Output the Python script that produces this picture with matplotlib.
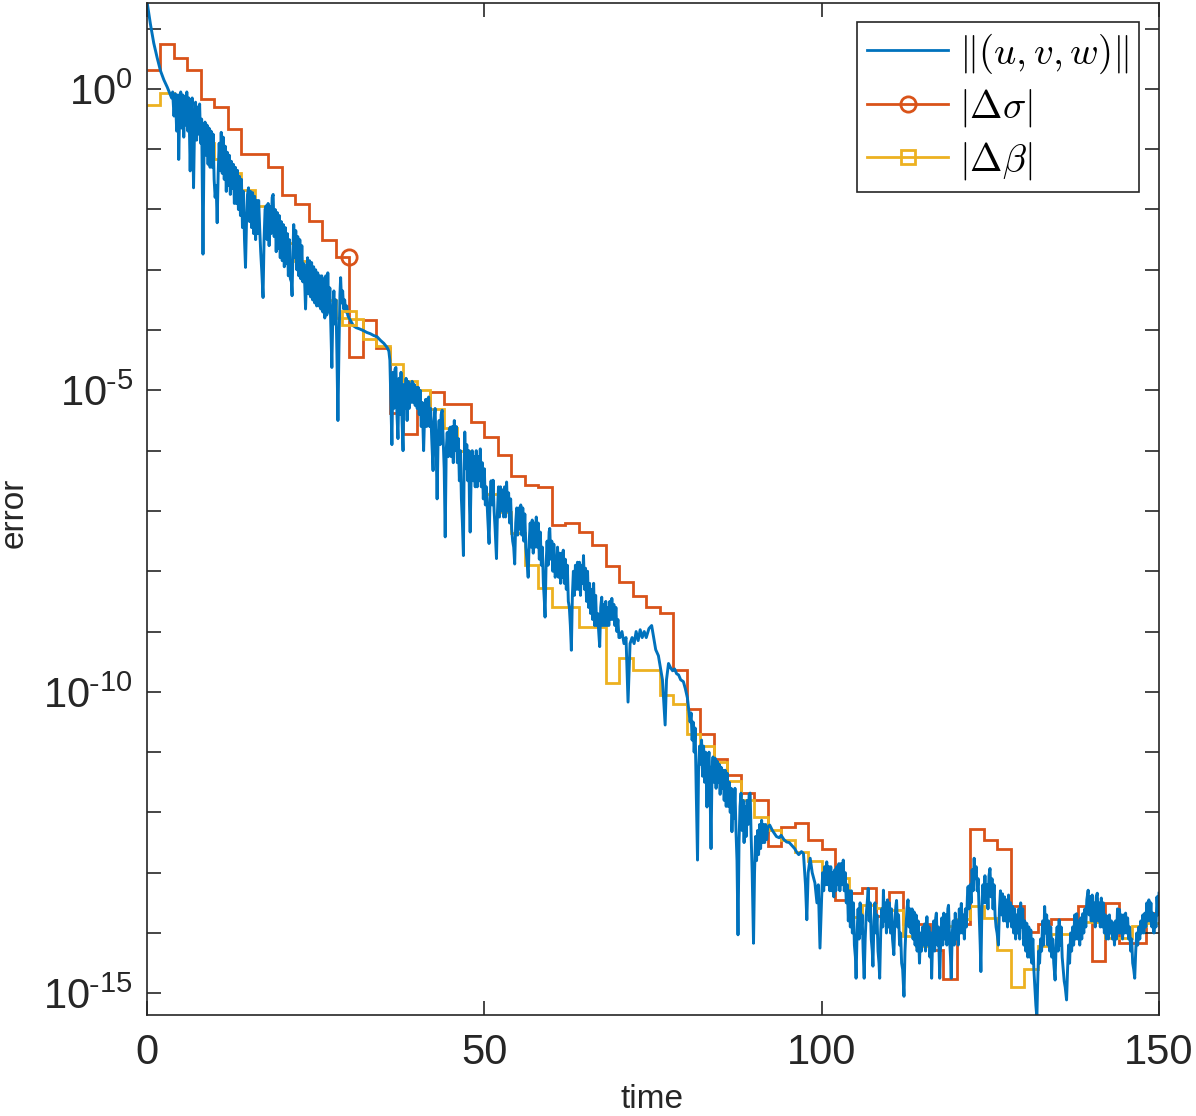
import numpy as np
import matplotlib
matplotlib.use('Agg')
import matplotlib.pyplot as plt
from matplotlib.lines import Line2D

plt.rcParams['font.family'] = ['Liberation Sans', 'DejaVu Sans']
plt.rcParams['mathtext.fontset'] = 'cm'

# step series: one value (log10) per 2-unit interval from 0 to 150
t_edges = list(range(0, 152, 2))
sigma_exp = [0.31, 0.74, 0.51, 0.31, -0.16, -0.30, -0.67, -1.08, -1.08, -1.29,
             -1.76, -1.91, -2.19, -2.51, -2.78, -4.45, -3.83, -4.29, -5.37, -5.72,
             -5.33, -5.03, -5.22, -5.22, -5.52, -5.77, -6.08, -6.42, -6.57, -6.60,
             -7.23, -7.20, -7.35, -7.57, -7.92, -8.17, -8.41, -8.59, -8.70, -9.64,
             -10.28, -10.70, -11.12, -11.38, -11.67, -11.80, -12.56, -12.25, -12.17, -12.46,
             -12.61, -13.45, -13.34, -13.26, -13.71, -13.32, -13.85, -13.85, -14.28, -14.77,
             -13.85, -12.27, -12.45, -12.61, -13.55, -13.98, -13.85, -13.76, -13.76, -13.56,
             -14.46, -13.51, -14.16, -14.16, -13.66]
beta_exp = [-0.27, -0.06, -0.34, -0.63, -0.90, -1.17, -1.39, -1.68, -1.95, -2.25,
            -2.56, -2.85, -3.15, -3.50, -3.80, -3.82, -4.15, -4.27, -4.56, -4.84,
            -5.00, -5.31, -5.62, -6.01, -6.30, -6.72, -7.02, -7.37, -7.90, -8.28,
            -8.59, -8.59, -8.93, -8.93, -9.85, -9.44, -9.64, -9.63, -10.05, -10.20,
            -10.70, -10.90, -11.17, -11.48, -11.80, -12.08, -12.29, -12.46, -12.65, -12.80,
            -13.08, -13.08, -13.73, -13.54, -13.58, -13.62, -14.05, -14.21, -14.00, -13.88,
            -13.77, -13.56, -13.75, -14.29, -14.89, -14.60, -14.22, -14.02, -14.02, -13.81,
            -13.81, -14.08, -14.08, -13.89, -13.84]
marker_idx = 14  # markers sit at t = 30

# ||(u,v,w)|| : (time, log10 error)
blue_pts = [
    (0, 1.45), (0.5, 1.08), (1, 0.76), (1.5, 0.52), (2, 0.30), (2.5, 0.15), (3, 0.03), (3.4, -0.08), (3.65, -0.15),
    (3.8, -0.05), (4.0, -0.45), (4.2, -0.08), (4.4, -0.7), (4.6, -0.1), (4.7, -1.17), (4.85, -0.35), (5.0, -0.05),
    (5.15, -0.65), (5.3, -0.1), (5.45, -0.8), (5.6, -0.12), (5.75, -0.6), (5.9, -0.05), (6.05, -0.7), (6.2, -0.15),
    (6.4, -1.36), (6.55, -0.4), (6.7, -0.15), (6.8, -0.9), (6.9, -1.64), (7.05, -0.6), (7.2, -0.22), (7.35, -0.85),
    (7.5, -0.3), (7.65, -0.75), (7.8, -0.25), (7.95, -0.9), (8.1, -0.5), (8.3, -2.74), (8.45, -1.0), (8.6, -0.55),
    (8.75, -1.1), (8.9, -0.6), (9.05, -1.25), (9.2, -0.65), (9.35, -1.3), (9.5, -0.7), (9.65, -1.3), (9.8, -0.75),
    (9.95, -1.5), (10.1, -1.8), (10.25, -1.6), (10.4, -2.22), (10.55, -1.4), (10.7, -0.9), (10.85, -1.35), (11.0, -0.72),
    (11.15, -1.4), (11.3, -0.8), (11.45, -1.5), (11.6, -0.95), (11.75, -1.7), (11.9, -1.05), (12.05, -1.6),
    (12.2, -1.1), (12.35, -1.75), (12.5, -1.2), (12.65, -1.65), (12.8, -1.25), (12.95, -1.9), (13.1, -1.3),
    (13.25, -1.9), (13.4, -1.35), (13.55, -2.0), (13.7, -1.45), (13.85, -2.1), (14.0, -1.5), (14.15, -2.3),
    (14.3, -1.7), (14.45, -2.5), (14.6, -2.96), (14.75, -2.2), (14.9, -1.75), (15.05, -1.64), (15.2, -2.2),
    (15.35, -1.7), (15.5, -2.3), (15.65, -1.72), (15.8, -2.4), (15.95, -1.78), (16.1, -2.5), (16.25, -1.85),
    (16.4, -2.4), (16.55, -1.85), (16.7, -2.3), (16.85, -2.7), (17.0, -3.0), (17.2, -3.46), (17.35, -2.5), (17.5, -2.0),
    (17.65, -1.94), (17.8, -2.5), (17.95, -1.9), (18.1, -2.6), (18.25, -1.95), (18.4, -2.4), (18.55, -1.8),
    (18.7, -1.75), (18.85, -2.45), (19.0, -2.0), (19.15, -2.7), (19.3, -2.05), (19.45, -2.65), (19.6, -2.1),
    (19.75, -2.8), (19.9, -2.2), (20.05, -2.85), (20.2, -2.25), (20.35, -2.95), (20.5, -2.3), (20.65, -2.9),
    (20.8, -2.4), (20.95, -3.1), (21.1, -2.5), (21.25, -3.15), (21.4, -3.2), (21.5, -3.43), (21.65, -2.6), (21.75, -2.25),
    (21.9, -2.8), (22.05, -2.35), (22.2, -3.0), (22.35, -2.45), (22.5, -3.1), (22.65, -2.5), (22.8, -3.15),
    (22.95, -2.6), (23.1, -3.2), (23.25, -2.9), (23.4, -3.3), (23.5, -3.65), (23.65, -3.1), (23.8, -2.8), (23.95, -3.4),
    (24.1, -2.85), (24.25, -3.45), (24.4, -2.88), (24.55, -3.5), (24.7, -2.95), (24.85, -3.55), (25.0, -3.0),
    (25.15, -3.6), (25.3, -3.05), (25.45, -3.6), (25.6, -3.1), (25.75, -3.65), (25.9, -3.1), (26.05, -3.7),
    (26.2, -3.15), (26.35, -3.8), (26.5, -3.1), (26.65, -3.75), (26.8, -3.05), (26.95, -3.7), (27.1, -3.3),
    (27.25, -3.95), (27.4, -4.62), (27.55, -3.7), (27.7, -3.35), (27.85, -3.9), (28.0, -3.5), (28.15, -4.4),
    (28.3, -5.5), (28.45, -4.3), (28.6, -3.4), (28.7, -3.13), (28.85, -3.55), (29.0, -3.35), (29.15, -3.65), (29.3, -3.5),
    (29.45, -3.7), (29.6, -3.6), (29.75, -3.75), (29.9, -3.79),
    (30.3, -3.87), (30.6, -3.93), (31.0, -3.96), (31.5, -3.98), (32.1, -4.01), (32.6, -4.04), (33.1, -4.06),
    (33.6, -4.09), (34.1, -4.11), (34.6, -4.17), (35.1, -4.22), (35.6, -4.29), (35.85, -4.35),
    (36.0, -4.5), (36.15, -5.2), (36.3, -5.9), (36.45, -4.7), (36.6, -5.3), (36.75, -4.65), (36.9, -4.62),
    (37.05, -5.4), (37.2, -5.8), (37.35, -4.8), (37.5, -5.4), (37.65, -4.7), (37.8, -5.5), (37.95, -6.0), (38.1, -4.9),
    (38.25, -5.3), (38.4, -4.8), (38.55, -5.5), (38.7, -4.85), (38.85, -5.3), (39.0, -4.9), (39.15, -5.2),
    (39.3, -4.85), (39.45, -5.2), (39.6, -4.9), (39.75, -5.25), (39.9, -4.95), (40.05, -5.3), (40.2, -4.95),
    (40.35, -5.4), (40.5, -5.0), (40.65, -5.6), (40.8, -5.2), (41.0, -6.0), (41.15, -5.4), (41.3, -5.15), (41.45, -5.6),
    (41.6, -5.15), (41.75, -5.11), (41.9, -5.6), (42.05, -5.3), (42.2, -5.8), (42.4, -6.33), (42.55, -5.5),
    (42.7, -5.3), (42.85, -5.9), (43.0, -6.8), (43.15, -5.8), (43.3, -5.5), (43.45, -5.9), (43.6, -5.4), (43.75, -5.33),
    (43.9, -5.8), (44.05, -6.3), (44.2, -7.43), (44.35, -6.0), (44.5, -5.7), (44.65, -6.1), (44.8, -5.65),
    (44.95, -5.61), (45.1, -6.1), (45.25, -5.6), (45.4, -6.2), (45.55, -5.5), (45.7, -6.0), (45.85, -5.6), (46.0, -6.2),
    (46.15, -5.8), (46.3, -6.5), (46.45, -6.0), (46.6, -6.8), (46.75, -7.2), (46.9, -7.74), (47.0, -6.3), (47.1, -5.69),
    (47.25, -6.3), (47.4, -5.9), (47.55, -6.5), (47.7, -6.0), (47.8, -6.9), (47.9, -7.35), (48.05, -6.4), (48.2, -6.0),
    (48.35, -6.5), (48.5, -6.1), (48.65, -6.6), (48.8, -6.0), (48.95, -6.6), (49.1, -6.1), (49.25, -6.5),
    (49.4, -5.97), (49.55, -6.6), (49.7, -6.2), (49.85, -6.8), (50.0, -6.3), (50.15, -6.9), (50.3, -6.6), (50.5, -7.1),
    (50.7, -7.54), (50.85, -6.8), (51.0, -6.5), (51.15, -6.9), (51.3, -6.49), (51.45, -7.0), (51.6, -7.3),
    (51.8, -7.79), (51.95, -7.0), (52.1, -6.6), (52.25, -7.1), (52.4, -6.6), (52.55, -7.0), (52.7, -6.65),
    (52.85, -7.1), (53.0, -6.6), (53.15, -7.1), (53.3, -6.52), (53.45, -7.0), (53.6, -6.7), (53.75, -7.2),
    (53.9, -6.8), (54.05, -7.3), (54.2, -7.5), (54.35, -7.6), (54.5, -7.88), (54.65, -7.2), (54.8, -6.95),
    (54.95, -7.4), (55.1, -6.95), (55.25, -7.3), (55.4, -6.9), (55.55, -7.4), (55.7, -6.95), (55.85, -7.5),
    (56.0, -7.05), (56.15, -7.6), (56.3, -7.8), (56.5, -8.10), (56.65, -7.5), (56.8, -7.2), (56.95, -7.6),
    (57.1, -7.15), (57.25, -7.7), (57.4, -7.2), (57.55, -7.6), (57.7, -7.1), (57.85, -7.6), (58.0, -7.2),
    (58.15, -7.8), (58.3, -7.35), (58.45, -7.9), (58.6, -7.6), (58.75, -8.2), (58.9, -8.5), (59.0, -8.76),
    (59.15, -7.9), (59.3, -7.5), (59.45, -7.9), (59.6, -7.35), (59.7, -7.29), (59.85, -7.8), (60.0, -7.5),
    (60.15, -8.0), (60.3, -7.55), (60.5, -8.1), (60.7, -7.98), (60.85, -7.6), (61.0, -8.1), (61.15, -7.7),
    (61.3, -8.2), (61.45, -7.7), (61.6, -8.1), (61.7, -7.65), (61.85, -8.2), (62.0, -7.8), (62.15, -8.3),
    (62.3, -7.9), (62.45, -8.5), (62.6, -8.6), (62.75, -8.9), (62.9, -9.31), (63.05, -8.4), (63.2, -8.0),
    (63.35, -8.4), (63.5, -7.9), (63.65, -8.3), (63.8, -7.85), (63.95, -8.3), (64.1, -7.85), (64.25, -8.4),
    (64.4, -7.9), (64.55, -8.2), (64.7, -7.74), (64.85, -8.3), (65.0, -7.95), (65.15, -8.5), (65.3, -8.0),
    (65.45, -8.6), (65.6, -8.2), (65.75, -8.7), (65.9, -8.3), (66.05, -8.8), (66.2, -8.2), (66.35, -8.9),
    (66.5, -8.4), (66.65, -8.9), (66.8, -8.7), (66.95, -9.0), (67.1, -9.25), (67.25, -8.6), (67.4, -8.43),
    (67.55, -8.9), (67.7, -8.55), (67.85, -8.9), (68.0, -8.5), (68.15, -8.9), (68.3, -8.6), (68.45, -8.9),
    (68.6, -8.5), (68.75, -8.8), (68.9, -8.45), (69.05, -8.8), (69.2, -8.55), (69.35, -8.9), (69.5, -8.6),
    (69.65, -9.0), (69.8, -8.8), (69.95, -9.1),
    (70.1, -9.1), (70.4, -9.0), (70.7, -9.2), (71.0, -9.1), (71.3, -10.17), (71.6, -9.2), (71.9, -9.1), (72.2, -9.2),
    (72.5, -9.0), (72.8, -9.15), (73.1, -8.97), (73.4, -9.1), (73.7, -9.0), (74.0, -9.1), (74.4, -8.95), (74.8, -8.9),
    (75.1, -9.1), (75.4, -9.3), (75.8, -9.4), (76.1, -9.6), (76.4, -9.8), (76.8, -10.55), (77.0, -9.8), (77.3, -9.53),
    (77.6, -9.6), (77.9, -9.65), (78.2, -9.62), (78.5, -9.7), (78.8, -9.72), (79.1, -9.8), (79.5, -9.83),
    (79.8, -9.95),
    (80.1, -10.1), (80.3, -10.3), (80.5, -10.5), (80.65, -10.35), (80.8, -10.8), (80.95, -10.5), (81.1, -11.0),
    (81.25, -10.6), (81.4, -11.6), (81.6, -12.79), (81.75, -11.3), (81.9, -10.9), (82.05, -11.2), (82.2, -10.80),
    (82.35, -11.4), (82.5, -10.9), (82.65, -11.5), (82.8, -11.0), (83.0, -11.91), (83.15, -11.2), (83.3, -11.0),
    (83.45, -11.6), (83.6, -12.60), (83.75, -11.3), (83.9, -11.08), (84.05, -11.5), (84.2, -11.1), (84.35, -11.6),
    (84.5, -11.15), (84.65, -11.5), (84.8, -11.2), (84.95, -11.7), (85.1, -11.25), (85.25, -11.6), (85.4, -11.3),
    (85.55, -11.8), (85.7, -11.3), (85.85, -11.9), (86.0, -11.35), (86.15, -11.9), (86.3, -11.5), (86.45, -12.0),
    (86.6, -11.6), (86.7, -12.32), (86.85, -11.7), (87.0, -12.1), (87.15, -11.6), (87.3, -12.3), (87.45, -12.8),
    (87.6, -14.03), (87.75, -12.5), (87.9, -11.9), (88.05, -11.68), (88.2, -12.3), (88.35, -11.8), (88.5, -12.5),
    (88.65, -11.9), (88.8, -12.4), (88.95, -11.8), (89.1, -12.2), (89.25, -11.7), (89.4, -11.68), (89.55, -12.4),
    (89.7, -13.0), (89.9, -14.17), (90.05, -13.0), (90.2, -12.4), (90.35, -12.8), (90.5, -12.3), (90.65, -12.7),
    (90.8, -12.2), (90.95, -12.6), (91.1, -12.13), (91.25, -12.5), (91.4, -12.2), (91.55, -12.5), (91.7, -12.2),
    (91.85, -12.45), (92.0, -12.25),
    (92.3, -12.21), (92.7, -12.3), (93.0, -12.35), (93.3, -12.4), (93.7, -12.42), (94.0, -12.38), (94.4, -12.45),
    (94.8, -12.49), (95.2, -12.5), (95.6, -12.55), (96.0, -12.6), (96.3, -12.66), (96.6, -12.7), (97.0, -12.65),
    (97.3, -12.68), (97.6, -13.2), (97.8, -13.78), (98.0, -13.0), (98.3, -12.76), (98.6, -13.0), (99.0, -13.17),
    (99.3, -13.5), (99.5, -13.2), (99.75, -14.25),
    (100.0, -13.4), (100.15, -13.0), (100.3, -13.3), (100.45, -12.9), (100.6, -13.2), (100.75, -12.82),
    (100.9, -13.2), (101.05, -12.9), (101.2, -13.3), (101.35, -12.9), (101.5, -13.3), (101.65, -13.0),
    (101.8, -13.4), (101.95, -12.95), (102.1, -13.3), (102.25, -12.9), (102.4, -13.2), (102.55, -12.85),
    (102.7, -13.3), (102.85, -12.85), (103.0, -13.2), (103.2, -12.79), (103.35, -13.3), (103.5, -13.0),
    (103.65, -13.5), (103.8, -13.2), (103.95, -13.8), (104.1, -13.3), (104.25, -13.9), (104.4, -13.3),
    (104.55, -14.0), (104.7, -13.5), (104.85, -14.2), (105.0, -14.4), (105.1, -14.75), (105.25, -14.0),
    (105.4, -13.6), (105.55, -14.1), (105.7, -13.50), (105.85, -14.0), (106.0, -13.7), (106.15, -14.3),
    (106.3, -14.75), (106.45, -14.1), (106.6, -13.7), (106.75, -13.5), (106.9, -13.26), (107.05, -13.8),
    (107.2, -13.5), (107.35, -14.1), (107.5, -14.3), (107.6, -14.55), (107.75, -13.8), (107.9, -13.5),
    (108.05, -14.0), (108.2, -13.7), (108.35, -14.3), (108.5, -14.5), (108.6, -14.75), (108.75, -14.0),
    (108.9, -13.6), (109.05, -13.9), (109.15, -13.29), (109.3, -13.8), (109.45, -13.5), (109.6, -14.0),
    (109.75, -13.45), (109.9, -13.9), (110.05, -13.5), (110.2, -14.0), (110.35, -13.6), (110.5, -14.1),
    (110.7, -14.36), (110.85, -13.8), (111.0, -13.55), (111.1, -13.46), (111.25, -13.9), (111.4, -13.7),
    (111.55, -14.2), (111.7, -14.0), (111.85, -14.5), (112.0, -14.6), (112.2, -15.05), (112.35, -14.3),
    (112.5, -13.9), (112.65, -13.6), (112.8, -13.45), (112.95, -13.9), (113.1, -13.6), (113.25, -14.0),
    (113.4, -13.6), (113.55, -14.1), (113.7, -13.65), (113.85, -14.2), (114.0, -13.7), (114.15, -14.3),
    (114.3, -13.8), (114.5, -14.5), (114.65, -14.0), (114.8, -14.3), (114.95, -13.9),
    (115.1, -14.2), (115.25, -13.85), (115.4, -14.3), (115.6, -13.73), (115.75, -14.2), (115.9, -13.9),
    (116.05, -14.4), (116.2, -14.0), (116.3, -14.75), (116.45, -14.1), (116.6, -13.8), (116.75, -14.3),
    (116.9, -13.75), (117.0, -13.67), (117.15, -14.2), (117.3, -13.9), (117.5, -14.75), (117.65, -14.1),
    (117.8, -13.75), (117.95, -14.2), (118.1, -13.67), (118.25, -14.1), (118.4, -13.7), (118.55, -14.2),
    (118.7, -13.6), (118.8, -13.54), (118.95, -14.1), (119.1, -14.4), (119.2, -14.75), (119.35, -14.0),
    (119.5, -13.8), (119.65, -14.2), (119.8, -13.67), (119.95, -14.1), (120.1, -13.8), (120.25, -14.2),
    (120.4, -13.6), (120.55, -14.0), (120.7, -13.51), (120.85, -14.0), (121.0, -13.7), (121.15, -14.1),
    (121.3, -13.6), (121.45, -13.9), (121.6, -13.4), (121.7, -13.23), (121.85, -13.6), (122.0, -13.2),
    (122.15, -13.5), (122.3, -12.95), (122.45, -13.3), (122.6, -12.76), (122.75, -13.1), (122.9, -12.9),
    (123.05, -13.3), (123.2, -13.1), (123.35, -13.7), (123.5, -14.2), (123.6, -14.64), (123.75, -13.6),
    (123.9, -13.2), (124.05, -13.5), (124.2, -13.05), (124.35, -13.5), (124.5, -13.2), (124.65, -13.6),
    (124.8, -13.05), (124.95, -12.93), (125.1, -13.4), (125.25, -13.1), (125.4, -13.6), (125.55, -13.2),
    (125.7, -13.7), (125.85, -13.9), (126.0, -14.0), (126.2, -14.20), (126.35, -13.6), (126.5, -13.3),
    (126.65, -13.7), (126.8, -13.35), (126.95, -13.8), (127.1, -13.4), (127.25, -13.8), (127.4, -13.45),
    (127.55, -13.9), (127.7, -13.37), (127.85, -13.8), (128.0, -13.5), (128.15, -13.9), (128.3, -13.56),
    (128.45, -14.0), (128.6, -13.6), (128.75, -14.1), (128.9, -13.7), (129.05, -14.0), (129.2, -13.6),
    (129.35, -14.1), (129.5, -13.5), (129.65, -13.9), (129.8, -13.6), (129.95, -14.2), (130.1, -13.8),
    (130.25, -14.3), (130.4, -13.84), (130.55, -14.4), (130.7, -13.9), (130.85, -14.4), (131.0, -13.95),
    (131.15, -14.5), (131.3, -14.1), (131.45, -14.6), (131.6, -14.9), (131.75, -15.2), (131.9, -15.4),
    (132.0, -14.9), (132.15, -14.3), (132.3, -14.5), (132.45, -14.1), (132.6, -14.3), (132.75, -13.8),
    (132.9, -14.2), (133.05, -13.56), (133.2, -14.0), (133.35, -13.7), (133.5, -14.2), (133.65, -13.8),
    (133.8, -14.3), (133.95, -13.9), (134.1, -14.4), (134.25, -14.1), (134.4, -14.5), (134.6, -14.78),
    (134.75, -14.2), (134.9, -13.9), (135.05, -14.3), (135.2, -13.78), (135.35, -14.2), (135.5, -13.9),
    (135.65, -14.4), (135.8, -14.6), (135.95, -14.8), (136.1, -14.9), (136.3, -15.11), (136.45, -14.6),
    (136.6, -14.2), (136.75, -14.5), (136.9, -14.0), (137.05, -14.3), (137.2, -13.9), (137.35, -14.2),
    (137.5, -13.7), (137.65, -14.1), (137.8, -13.68), (137.95, -14.1), (138.1, -13.8), (138.25, -14.2),
    (138.4, -13.75), (138.55, -14.1), (138.7, -13.68), (138.85, -14.0), (139.0, -13.6), (139.15, -13.9),
    (139.3, -13.45), (139.5, -13.29), (139.65, -13.7), (139.8, -13.4), (139.95, -13.8), (140.1, -13.37),
    (140.25, -13.8), (140.4, -13.5), (140.55, -13.9), (140.7, -13.4), (140.85, -13.34), (141.0, -13.8),
    (141.15, -13.5), (141.3, -13.9), (141.45, -13.42), (141.6, -13.9), (141.75, -13.5), (141.9, -14.0),
    (142.05, -13.7), (142.2, -14.1), (142.35, -13.72), (142.5, -14.1), (142.65, -13.7), (142.8, -14.0),
    (142.95, -13.8), (143.1, -14.1), (143.25, -13.83), (143.4, -14.2), (143.55, -13.8), (143.7, -14.1),
    (143.85, -13.6), (144.0, -14.0), (144.15, -13.61), (144.3, -14.0), (144.45, -13.7), (144.6, -14.1),
    (144.75, -13.7), (144.9, -14.0), (145.05, -13.67), (145.2, -14.0), (145.35, -13.75), (145.5, -14.1),
    (145.65, -13.9), (145.8, -14.3), (145.95, -14.1), (146.1, -14.5), (146.25, -14.6), (146.4, -14.75),
    (146.55, -14.3), (146.7, -14.0), (146.85, -14.2), (147.0, -13.9), (147.15, -14.1), (147.3, -13.8),
    (147.45, -14.0), (147.6, -13.7), (147.75, -14.0), (147.9, -13.67), (148.05, -13.9), (148.2, -13.5),
    (148.35, -13.8), (148.5, -13.45), (148.65, -13.8), (148.8, -13.5), (148.95, -13.9), (149.1, -13.67),
    (149.25, -14.0), (149.4, -13.7), (149.55, -13.9), (149.7, -13.4), (149.85, -13.7), (150.0, -13.34),
]

c_blue = '#0072BD'
c_orange = '#D95319'
c_yellow = '#EDB120'
c_axis = '#262626'

blue_t = [p[0] for p in blue_pts]
blue_err = [10.0 ** p[1] for p in blue_pts]
sigma_err = [10.0 ** v for v in sigma_exp]
beta_err = [10.0 ** v for v in beta_exp]

fig = plt.figure(figsize=(11.96, 11.16), dpi=100)
ax = fig.add_axes([147 / 1196, 1 - 1015 / 1116, 1012 / 1196, 1012 / 1116])

ax.plot(blue_t, blue_err, color=c_blue, lw=2.1)
ax.stairs(sigma_err, t_edges, color=c_orange, lw=2.0, baseline=None)
ax.stairs(beta_err, t_edges, color=c_yellow, lw=2.0, baseline=None)
ax.plot([t_edges[marker_idx + 1]], [sigma_err[marker_idx]], marker='o', ms=11,
        mfc='none', mec=c_orange, mew=2, ls='none')
ax.plot([t_edges[marker_idx + 1]], [beta_err[marker_idx]], marker='s', ms=10,
        mfc='none', mec=c_yellow, mew=2, ls='none')

ax.set_yscale('log')
ax.set_xlim(0, 150)
ax.set_ylim(10 ** -15.36, 10 ** 1.425)
ax.set_xticks([0, 50, 100, 150])
ax.set_xticklabels(['0', '50', '100', '150'])
yt = list(range(-15, 2))
ax.set_yticks([10.0 ** k for k in yt])
ylabels = []
for k in yt:
    if k == 0:
        ylabels.append(r'$\mathdefault{10^{0}}$')
    elif k % 5 == 0:
        ylabels.append(r'$\mathdefault{10^{\text{-}%d}}$' % (-k))
    else:
        ylabels.append('')
ax.set_yticklabels(ylabels)
ax.minorticks_off()
ax.tick_params(which='both', direction='in', length=10, width=1.2, colors=c_axis,
               top=True, right=True, labelsize=30)
ax.tick_params(axis='x', pad=13)
ax.tick_params(axis='y', pad=10)
for s in ax.spines.values():
    s.set_color(c_axis)
    s.set_linewidth(1.2)

fig.text(652 / 1196, 1 - 1099 / 1116, 'time', ha='center', va='center', fontsize=24, color=c_axis)
fig.text(14 / 1196, 1 - 513 / 1116, 'error', ha='center', va='center', rotation=90,
         fontsize=24, color=c_axis)

handles = [Line2D([], [], color=c_blue, lw=2),
           Line2D([], [], color=c_orange, lw=2, marker='o', ms=11, mfc='none', mew=2),
           Line2D([], [], color=c_yellow, lw=2, marker='s', ms=10, mfc='none', mew=2)]
labels = [r'$\|(u,v,w)\|$', r'$|\Delta\sigma|$', r'$|\Delta\beta|$']
leg = ax.legend(handles, labels, loc='upper right', bbox_to_anchor=(1139 / 1196, 1 - 22 / 1116),
                bbox_transform=fig.transFigure, borderaxespad=0, fontsize=28, handlelength=2.1,
                handletextpad=0.28, labelspacing=0.28, borderpad=0.25, fancybox=False, framealpha=1)
leg.get_frame().set_edgecolor(c_axis)
leg.get_frame().set_linewidth(1.2)

fig.savefig('out.png', dpi=100)
